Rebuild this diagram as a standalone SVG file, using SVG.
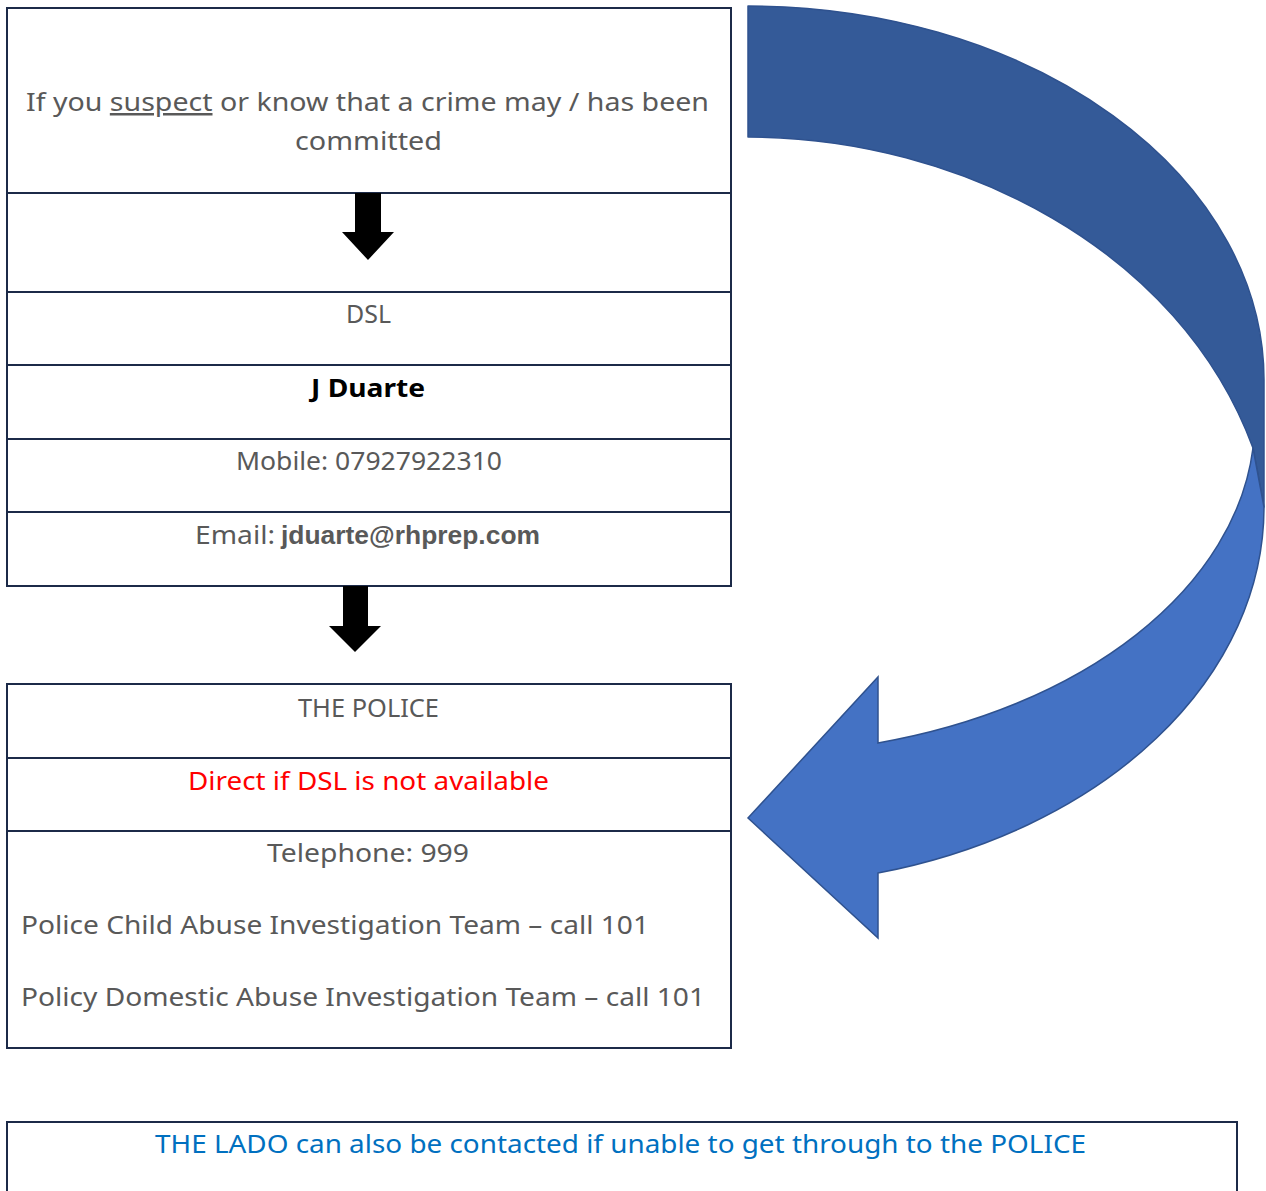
<svg xmlns="http://www.w3.org/2000/svg" width="1266" height="1191" viewBox="0 0 1266 1191">
<style>
.box{fill:#fff;stroke:#1c2a48;stroke-width:2}
.sep{stroke:#1c2a48;stroke-width:2}
.t{font-family:"Noto Sans","Open Sans",sans-serif;font-size:25px;fill:#595959}
.c{text-anchor:middle}
.arr{fill:#000}
</style>
<rect width="1266" height="1191" fill="#fff"/>
<g id="dsl-table">
<rect class="box" x="7" y="8" width="724" height="578"/>
<line class="sep" x1="7" y1="193" x2="731" y2="193"/>
<line class="sep" x1="7" y1="292" x2="731" y2="292"/>
<line class="sep" x1="7" y1="365" x2="731" y2="365"/>
<line class="sep" x1="7" y1="439" x2="731" y2="439"/>
<line class="sep" x1="7" y1="512" x2="731" y2="512"/>
<text class="t" x="26" y="111" textLength="683" lengthAdjust="spacingAndGlyphs">If you <tspan text-decoration="underline">suspect</tspan> or know that a crime may / has been</text>
<text class="t" x="295" y="150" textLength="147" lengthAdjust="spacingAndGlyphs">committed</text>
<text class="t" x="346" y="323" textLength="45" lengthAdjust="spacingAndGlyphs">DSL</text>
<text x="311" y="397" textLength="114" lengthAdjust="spacingAndGlyphs" style="font-family:'Noto Sans',sans-serif;font-size:25px;font-weight:bold;fill:#000">J Duarte</text>
<text class="t" x="236" y="470" textLength="266" lengthAdjust="spacingAndGlyphs">Mobile: 07927922310</text>
<text class="t" x="195" y="544" textLength="80" lengthAdjust="spacingAndGlyphs">Email:</text>
<text x="281" y="544" textLength="259" lengthAdjust="spacingAndGlyphs" style="font-family:'Liberation Sans',Arial,sans-serif;font-size:25px;font-weight:bold;fill:#595959">jduarte@rhprep.com</text>
</g>
<g id="police-table">
<rect class="box" x="7" y="684" width="724" height="364"/>
<line class="sep" x1="7" y1="758" x2="731" y2="758"/>
<line class="sep" x1="7" y1="831" x2="731" y2="831"/>
<text class="t" x="298" y="717" textLength="141" lengthAdjust="spacingAndGlyphs">THE POLICE</text>
<text class="t" x="188" y="790" textLength="361" lengthAdjust="spacingAndGlyphs" style="fill:#ff0000">Direct if DSL is not available</text>
<text class="t" x="267" y="862" textLength="202" lengthAdjust="spacingAndGlyphs">Telephone: 999</text>
<text class="t" x="21" y="934" textLength="628" lengthAdjust="spacingAndGlyphs">Police Child Abuse Investigation Team – call 101</text>
<text class="t" x="21" y="1006" textLength="684" lengthAdjust="spacingAndGlyphs">Policy Domestic Abuse Investigation Team – call 101</text>
</g>
<g id="lado-box">
<rect class="box" x="7" y="1122" width="1230" height="90"/>
<text class="t" x="155" y="1153" textLength="931" lengthAdjust="spacingAndGlyphs" style="fill:#0070c0">THE LADO can also be contacted if unable to get through to the POLICE</text>
</g>
<g id="connectors">
<polygon class="arr" points="355,193 381,193 381,232 394,232 368,260 342,232 355,232"/>
<polygon class="arr" points="343,586 368,586 368,626 381,626 355,652 329,626 343,626"/>
<path d="M748,6 A516,374 0 0 1 1264,380 L1264,507 L1253,448 C1180,250 960,137 748,137 Z" fill="#345a98" stroke="#2f528f" stroke-width="1.5" stroke-linejoin="round"/>
<path d="M1253,448 A507,334 0 0 1 878,743 L878,677 L748,818 L878,938 L878,873 A516,378 0 0 0 1264,507 Z" fill="#4472c4" stroke="#2f528f" stroke-width="1.5" stroke-linejoin="miter"/>
</g>
</svg>
